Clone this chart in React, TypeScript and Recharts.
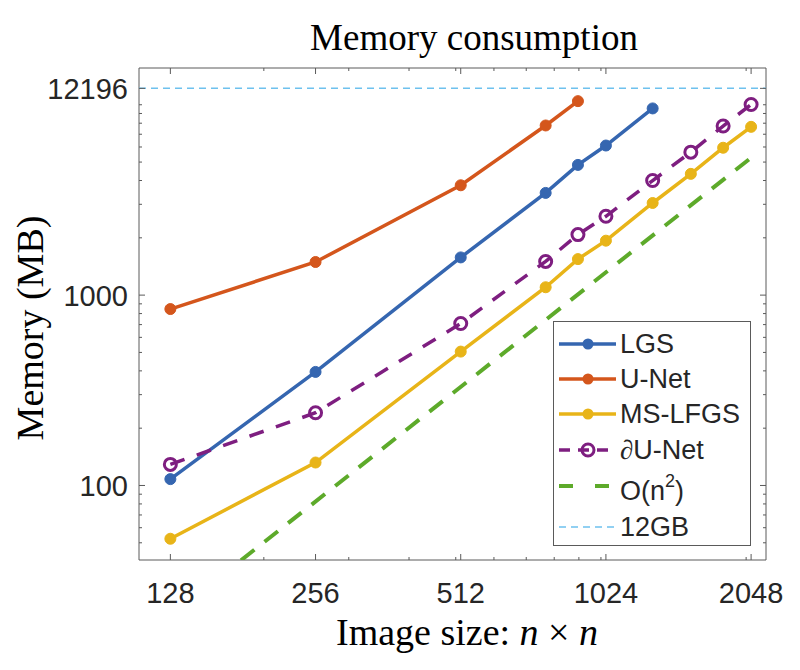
import React from 'react';
import { LineChart, Line, XAxis, YAxis, ReferenceLine, ReferenceArea } from 'recharts';

// image sizes (n) at which memory was measured
const sizes = [128, 256, 512, 768, 896, 1024, 1280, 1536, 1792, 2048];

// memory in MB
const lgsMem = [108, 395, 1578, 3443, 4831, 6108, 9567];
const unetMem = [845, 1493, 3776, 7784, 10448];
const msLfgsMem = [52.5, 132, 505, 1100, 1546, 1932, 3048, 4335, 5946, 7656];
const dUnetMem = [129, 241, 709, 1503, 2080, 2595, 3998, 5637, 7730, 10037];

// O(n^2) guide line, end points
const quadSizes = [128, 2048];
const quadMem = [20.6, 5270];

const gpuLimitMB = 12196;

const xMajorTicks = [128, 256, 512, 1024, 2048];
const xMinorTicks = [200, 300, 400, 500, 600, 700, 800, 900, 1000, 2000];
const yMajorTicks = [100, 1000, 12196];
const yMinorTicks = [50, 60, 70, 80, 90, 200, 300, 400, 500, 600, 700, 800, 900,
  2000, 3000, 4000, 5000, 6000, 7000, 8000, 9000, 10000];

const X_DOMAIN: [number, number] = [110.2, 2199];
const Y_DOMAIN: [number, number] = [40.6, 15600];

const W = 800;
const H = 670;
const PLOT = { left: 139, right: 766, top: 68, bottom: 560 };
const AXIS = '#5a5a5a';
const TEXT = '#262626';

const C = {
  lgs: '#3566B0',
  unet: '#D4561C',
  ms: '#E8B418',
  dunet: '#7E1E80',
  quad: '#5DAA2A',
  gpu: '#6EC1EE',
};

const toPoints = (xs: number[], ys: number[]) => ys.map((m, i) => ({ size: xs[i], mem: m }));

const lgsData = toPoints(sizes, lgsMem);
const unetData = toPoints(sizes, unetMem);
const msData = toPoints(sizes, msLfgsMem);
const dunetData = toPoints(sizes, dUnetMem);
const quadData = toPoints(quadSizes, quadMem);

const XTick = (props: any) => {
  const { x, payload } = props;
  const major = xMajorTicks.includes(payload.value);
  const len = major ? 6 : 3;
  return (
    <g>
      <line x1={x} x2={x} y1={PLOT.bottom} y2={PLOT.bottom - len} stroke={AXIS} />
      <line x1={x} x2={x} y1={PLOT.top} y2={PLOT.top + len} stroke={AXIS} />
      {major && (
        <text x={x} y={PLOT.bottom + 43} textAnchor="middle" fontFamily="Liberation Sans, Arial"
          fontSize={29} fill={TEXT}>{payload.value}</text>
      )}
    </g>
  );
};

const YTick = (props: any) => {
  const { y, payload } = props;
  const major = yMajorTicks.includes(payload.value);
  const len = major ? 6 : 3;
  return (
    <g>
      <line x1={PLOT.left} x2={PLOT.left + len} y1={y} y2={y} stroke={AXIS} />
      <line x1={PLOT.right - len} x2={PLOT.right} y1={y} y2={y} stroke={AXIS} />
      {major && (
        <text x={PLOT.left - 11} y={y} dy="0.36em" textAnchor="end" fontFamily="Liberation Sans, Arial"
          fontSize={29} fill={TEXT}>{payload.value}</text>
      )}
    </g>
  );
};

const renderXTitle = () => (
  <text x={467} y={645} textAnchor="middle" fontFamily="Liberation Serif, Times New Roman" fontSize={38} fill="#000">
    Image size: <tspan fontStyle="italic">n</tspan> × <tspan fontStyle="italic">n</tspan>
  </text>
);

const renderYTitle = () => (
  <text x={43} y={328} transform="rotate(-90, 43, 328)" textAnchor="middle"
    fontFamily="Liberation Serif, Times New Roman" fontSize={38} fill="#000">
    Memory (MB)
  </text>
);

const legendItems = [
  { label: 'LGS', color: C.lgs, dash: undefined, marker: 'filled', width: 3.5 },
  { label: 'U-Net', color: C.unet, dash: undefined, marker: 'filled', width: 3.5 },
  { label: 'MS-LFGS', color: C.ms, dash: undefined, marker: 'filled', width: 3.5 },
  { label: 'dU-Net', color: C.dunet, dash: '11 8', marker: 'open', width: 3.5 },
  { label: 'O(n2)', color: C.quad, dash: '14 22', marker: 'none', width: 4 },
  { label: '12GB', color: C.gpu, dash: '7 5', marker: 'none', width: 1.5 },
];
const legendCenters = [21.5, 57, 92, 127.5, 164, 205];

const LegendLabel = ({ label }: { label: string }) => {
  if (label === 'dU-Net') {
    return (
      <span>
        <span style={{ fontFamily: 'Liberation Serif, serif', fontStyle: 'italic' }}>∂</span>U-Net
      </span>
    );
  }
  if (label === 'O(n2)') {
    return (
      <span style={{ position: 'relative', top: 5 }}>
        O(n<sup style={{ fontSize: 18, verticalAlign: 'baseline', position: 'relative', top: -13 }}>2</sup>)
      </span>
    );
  }
  return <span>{label}</span>;
};

const MemoryLegend = () => (
  <div style={{
    position: 'absolute', left: 553, top: 321, width: 198, height: 225, boxSizing: 'border-box',
    border: `1px solid ${AXIS}`, background: '#fff',
  }}>
    {legendItems.map((it, i) => (
      <div key={it.label} style={{ position: 'absolute', left: 0, top: legendCenters[i] - 20, height: 40, width: 196 }}>
        <svg width={64} height={40} style={{ position: 'absolute', left: 0, top: 0 }}>
          <line x1={5} x2={62} y1={20} y2={20} stroke={it.color} strokeWidth={it.width} strokeDasharray={it.dash} />
          {it.marker === 'filled' && <circle cx={34} cy={20} r={5.5} fill={it.color} />}
          {it.marker === 'open' && <circle cx={34} cy={20} r={6} fill="none" stroke={it.color} strokeWidth={3} />}
        </svg>
        <div style={{
          position: 'absolute', left: 66, top: 0, height: 40, lineHeight: '40px',
          fontFamily: 'Liberation Sans, Arial', fontSize: 27, color: TEXT, whiteSpace: 'nowrap',
        }}>
          <LegendLabel label={it.label} />
        </div>
      </div>
    ))}
  </div>
);

const App: React.FC = () => {
  const xTicks = [...xMajorTicks, ...xMinorTicks].sort((a, b) => a - b);
  const yTicks = [...yMinorTicks, ...yMajorTicks].sort((a, b) => a - b);

  return (
    <div style={{ position: 'relative', width: W, height: H, background: '#fff' }}>
      <style>{'body{margin:0}'}</style>
      <LineChart width={W} height={H} margin={{ top: PLOT.top, right: W - PLOT.right, bottom: 50, left: 39 }}>
        <XAxis dataKey="size" type="number" scale="log" domain={X_DOMAIN} allowDataOverflow
          ticks={xTicks} interval={0} tick={<XTick />} tickLine={false} axisLine={false} height={60}
          label={renderXTitle} />
        <YAxis dataKey="mem" type="number" scale="log" domain={Y_DOMAIN} allowDataOverflow
          ticks={yTicks} interval={0} tick={<YTick />} tickLine={false} axisLine={false} width={100}
          label={renderYTitle} />
        <Line data={lgsData} dataKey="mem" stroke={C.lgs} strokeWidth={3.5} isAnimationActive={false}
          dot={{ r: 5.5, fill: C.lgs, stroke: C.lgs, strokeWidth: 1 }} activeDot={false} />
        <Line data={unetData} dataKey="mem" stroke={C.unet} strokeWidth={3.5} isAnimationActive={false}
          dot={{ r: 5.5, fill: C.unet, stroke: C.unet, strokeWidth: 1 }} activeDot={false} />
        <Line data={msData} dataKey="mem" stroke={C.ms} strokeWidth={3.5} isAnimationActive={false}
          dot={{ r: 5.5, fill: C.ms, stroke: C.ms, strokeWidth: 1 }} activeDot={false} />
        <Line data={dunetData} dataKey="mem" stroke={C.dunet} strokeWidth={3.5} strokeDasharray="15 13"
          isAnimationActive={false} dot={{ r: 6, fill: 'none', stroke: C.dunet, strokeWidth: 3, strokeDasharray: '' }}
          activeDot={false} />
        <Line data={quadData} dataKey="mem" stroke={C.quad} strokeWidth={4} strokeDasharray="17 13"
          isAnimationActive={false} dot={false} activeDot={false} />
        <ReferenceLine y={gpuLimitMB} stroke={C.gpu} strokeWidth={1.5} strokeDasharray="7 5" />
        <ReferenceArea x1={X_DOMAIN[0]} x2={X_DOMAIN[1]} y1={Y_DOMAIN[0]} y2={Y_DOMAIN[1]}
          fill="none" stroke={AXIS} strokeWidth={1} ifOverflow="visible" />
      </LineChart>
      <svg width={W} height={60} style={{ position: 'absolute', left: 0, top: 0, pointerEvents: 'none' }}>
        <text x={474} y={50} textAnchor="middle" fontFamily="Liberation Serif, Times New Roman" fontSize={37} fill="#000">
          Memory consumption
        </text>
      </svg>
      <MemoryLegend />
    </div>
  );
};

export default App;
